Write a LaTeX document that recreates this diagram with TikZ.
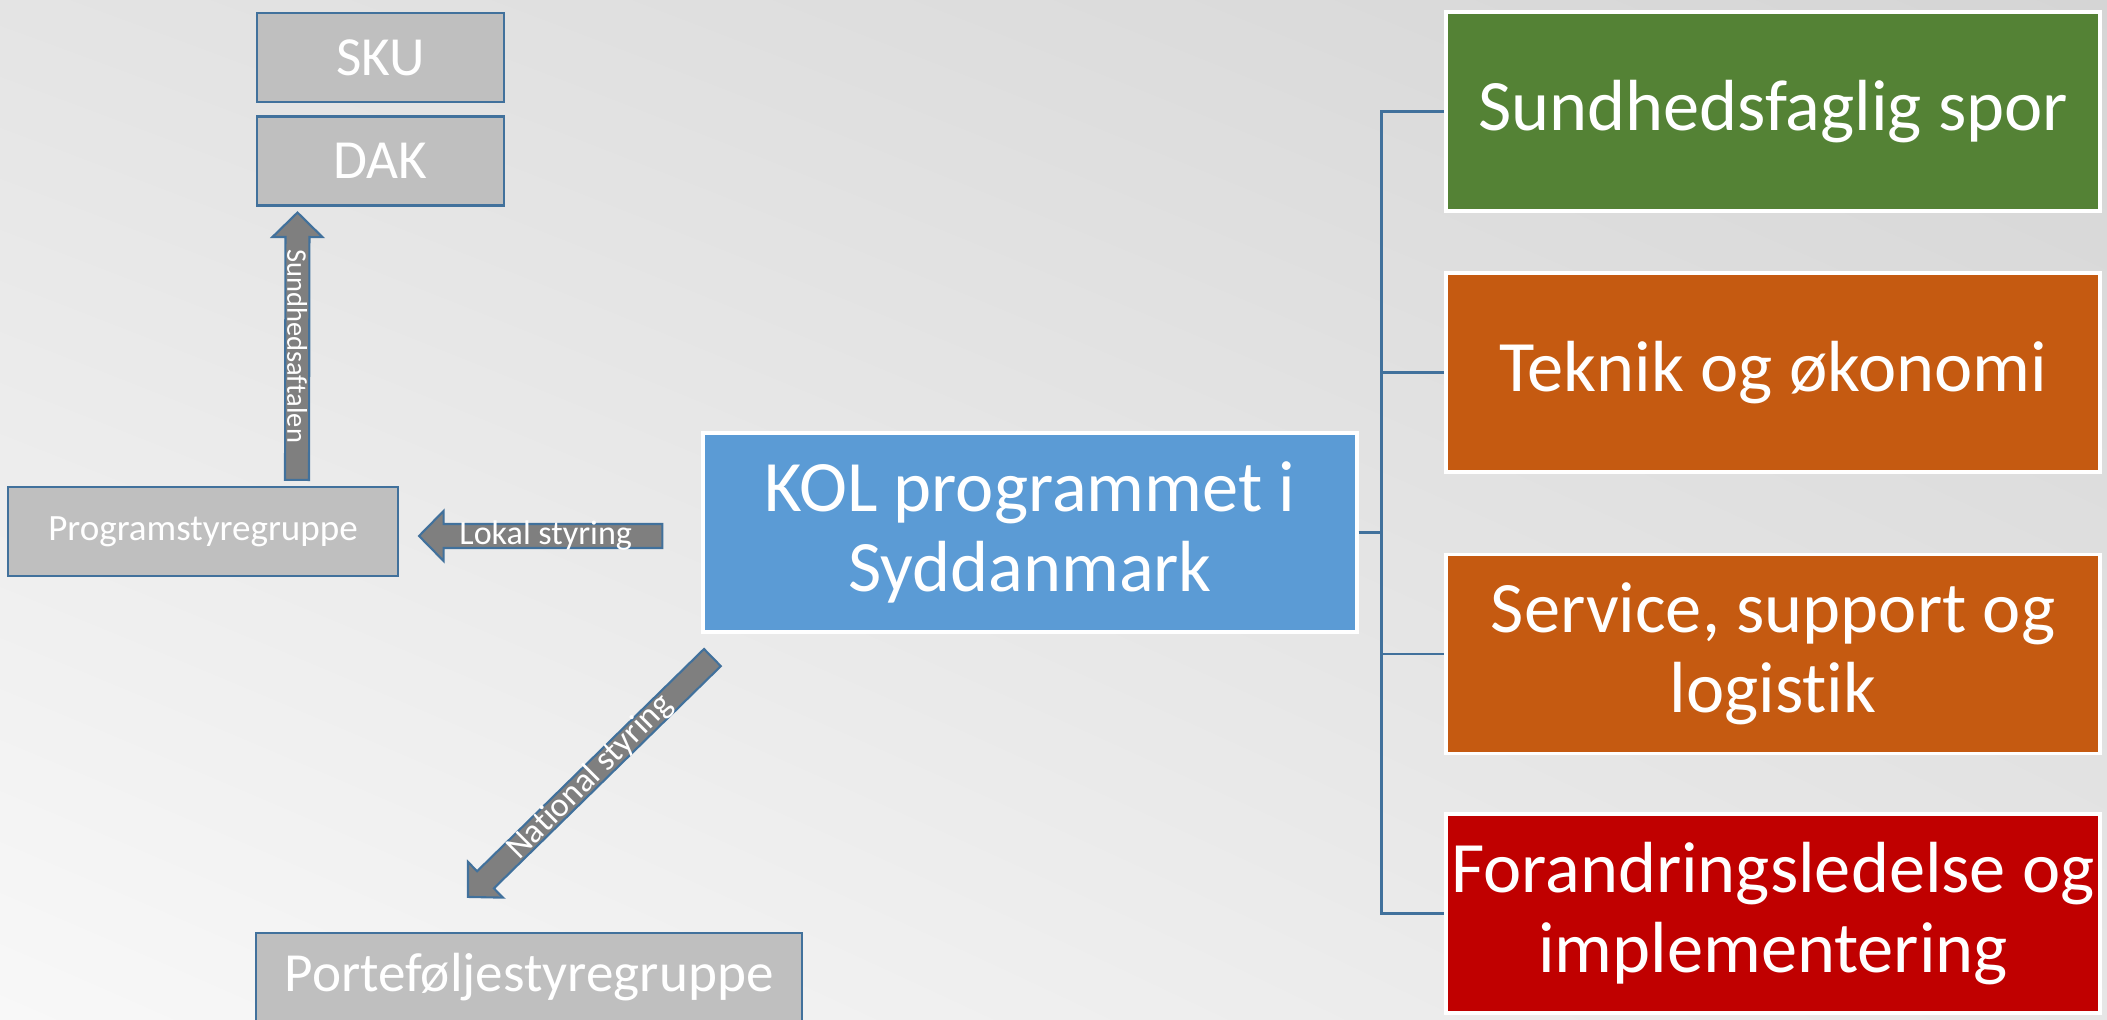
\documentclass[tikz,border=0pt]{standalone}
\usepackage{fontspec}
\setmainfont{Carlito}[Ligatures=NoCommon]
\usetikzlibrary{calc,shadings}

\definecolor{boxgrey}{HTML}{BFBFBF}
\definecolor{edgeblue}{HTML}{41719C}
\definecolor{arrowgrey}{HTML}{7F7F7F}
\definecolor{kolblue}{HTML}{5B9BD5}
\definecolor{sporgreen}{HTML}{548235}
\definecolor{spororange}{HTML}{C55A11}
\definecolor{sporred}{HTML}{C00000}
\definecolor{bgul}{HTML}{E4E4E4}
\definecolor{bgur}{HTML}{D5D5D5}
\definecolor{bgll}{HTML}{F8F8F8}
\definecolor{bglr}{HTML}{E6E6E6}

\tikzset{
  greybox/.style={draw=edgeblue, line width=0.6pt, fill=boxgrey, text=white, inner sep=0pt,
    minimum width=2.47cm, minimum height=0.89cm, font=\fontsize{15.7}{18}\selectfont},
  sporbox/.style={draw=white, line width=0.9pt, text=white, inner sep=0pt, align=center,
    minimum width=6.54cm, minimum height=1.99cm, font=\fontsize{20.6}{22.8}\selectfont},
  blockarrow/.style={draw=edgeblue, line width=0.6pt, fill=arrowgrey},
  arrowtext/.style={text=white, inner sep=0pt, font=\fontsize{9.7}{11}\selectfont},
  branch/.style={draw=edgeblue, line width=0.7pt}
}

% block arrow: tail, tip, label, label options
\newcommand{\blkarrow}[4]{%
  \coordinate (hb) at ($(#2)!0.245cm!(#1)$);
  \draw[blockarrow] ($(#1)!0.12cm!90:(#2)$) -- ($(hb)!0.12cm!90:(#2)$) -- ($(hb)!0.25cm!90:(#2)$)
    -- (#2) -- ($(hb)!0.25cm!-90:(#2)$) -- ($(hb)!0.12cm!-90:(#2)$) -- ($(#1)!0.12cm!-90:(#2)$) -- cycle;
  \path (#1) -- (#2) node[midway, arrowtext, #4] {#3};
}

\begin{document}
\begin{tikzpicture}
  \useasboundingbox (0,0) rectangle (21.07,10.20);
  \clip (0,0) rectangle (21.07,10.20);
  \shade[upper left=bgul, upper right=bgur, lower left=bgll, lower right=bglr] (0,0) rectangle (21.07,10.20);

  % left side
  \node[greybox] (sku) at (3.805,9.625) {SKU};
  \node[greybox] (dak) at (3.805,8.59) {DAK};
  \node[greybox, minimum width=3.90cm, font=\fontsize{10.55}{12}\selectfont] (prog) at (2.03,4.885) {Programstyregruppe};
  \node[greybox, minimum width=5.46cm] (port) at (5.29,0.425) {Porteføljestyregruppe};

  % programme
  \node[sporbox, fill=kolblue] (kol) at (10.30,4.875) {KOL programmet i\\Syddanmark};

  % tracks
  \node[sporbox, fill=sporgreen] (spor) at (17.73,9.085) {Sundhedsfaglig spor};
  \node[sporbox, fill=spororange] (tek) at (17.73,6.475) {Teknik og økonomi};
  \node[sporbox, fill=spororange] (serv) at (17.73,3.66) {Service, support og\\logistik};
  \node[sporbox, fill=sporred] (foran) at (17.73,1.065) {Forandringsledelse og\\implementering};

  \draw[branch] (kol.east) -- ++(0.23,0) coordinate (bus);
  \foreach \b in {spor,tek,serv,foran}
    \draw[branch] (bus) |- (\b.west);

  % steering arrows
  \coordinate (sa1) at ([shift={(0.94,0.06)}]prog.north);
  \coordinate (sa2) at ([shift={(-0.83,-0.06)}]dak.south);
  \blkarrow{sa1}{sa2}{Sundhedsaftalen}{rotate=-90, font=\fontsize{8.1}{10}\selectfont}

  \coordinate (ls1) at ([shift={(-0.39,-0.035)}]kol.west);
  \coordinate (ls2) at ([shift={(0.20,-0.045)}]prog.east);
  \blkarrow{ls1}{ls2}{Lokal styring}{xshift=0.05cm}

  \coordinate (ns1) at ([shift={(0.11,-0.24)}]kol.south west);
  \coordinate (ns2) at ([shift={(-0.61,0.35)}]port.north);
  \blkarrow{ns1}{ns2}{National styring}{rotate=45}
\end{tikzpicture}
\end{document}
